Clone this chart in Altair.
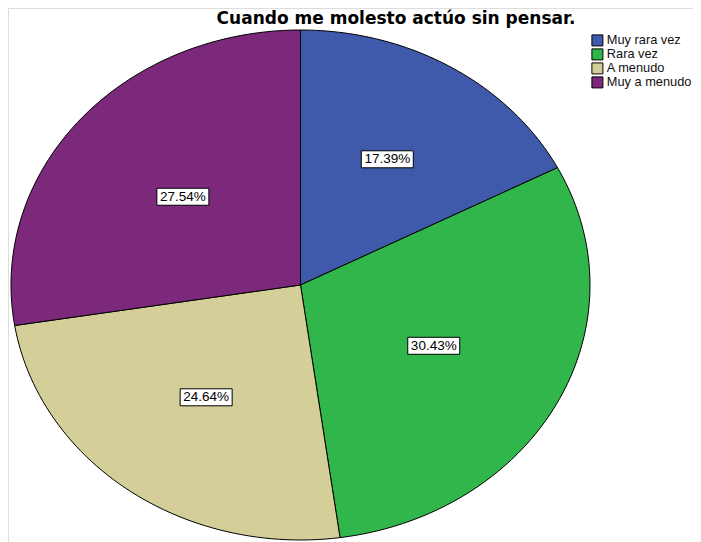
import altair as alt
import pandas as pd

categories = ["Muy rara vez", "Rara vez", "A menudo", "Muy a menudo"]
percentages = [17.39, 30.43, 24.64, 27.54]
labels = ["17.39%", "30.43%", "24.64%", "27.54%"]
colors = ["#3f59ab", "#30b64a", "#d4cf98", "#7c287b"]
title_text = "Cuando me molesto actúo sin pensar."

df = pd.DataFrame({
    "cat": categories,
    "pct": percentages,
    "label": labels,
    "order": list(range(len(categories))),
})

W, H = 685, 534
PXX, PXY = 289.5, 255.0
xmin = -1 - 3 / PXX
ymax = 1 + 22 / PXY
xdom = [xmin, xmin + W / PXX]
ydom = [ymax - H / PXY, ymax]

xs = alt.Scale(domain=xdom, nice=False, zero=False)
ys = alt.Scale(domain=ydom, nice=False, zero=False)
cscale = alt.Scale(domain=categories, range=colors)

base = (
    alt.Chart(df)
    .transform_window(cum="sum(pct)", sort=[alt.SortField("order")], frame=[None, 0])
    .transform_joinaggregate(total="sum(pct)")
    .transform_calculate(
        a0="2*PI*(datum.cum-datum.pct)/datum.total",
        a1="2*PI*datum.cum/datum.total",
    )
)

slices = (
    base.transform_calculate(k="sequence(0, 62)")
    .transform_flatten(["k"])
    .transform_calculate(
        t="clamp((datum.k-1)/59,0,1)",
        r="(datum.k==0||datum.k==61)?0:1",
    )
    .transform_calculate(ang="datum.a0+(datum.a1-datum.a0)*datum.t")
    .transform_calculate(px="datum.r*sin(datum.ang)", py="datum.r*cos(datum.ang)")
    .mark_line(interpolate="linear-closed", filled=True, stroke="black", strokeWidth=1, clip=False)
    .encode(
        x=alt.X("px:Q", scale=xs, axis=None),
        y=alt.Y("py:Q", scale=ys, axis=None),
        order=alt.Order("k:Q"),
        detail="cat:N",
        color=alt.Color(
            "cat:N",
            scale=cscale,
            sort=categories,
            legend=alt.Legend(
                title=None,
                orient="none",
                legendX=583,
                legendY=26,
                symbolType="square",
                symbolSize=121,
                symbolStrokeColor="black",
                symbolStrokeWidth=1,
                symbolOpacity=1,
                labelFont="Liberation Sans",
                labelFontSize=12.8,
                labelColor="#111111",
                labelOffset=3,
                labelLimit=200,
                rowPadding=-3,
                padding=0,
            ),
        ),
    )
)

# label anchor: a fraction of the sector centroid distance, along the mid angle
pos = (
    base.transform_calculate(mid="(datum.a0+datum.a1)/2", h="(datum.a1-datum.a0)/2")
    .transform_calculate(rc="0.91*2*sin(datum.h)/(3*datum.h)")
    .transform_calculate(lx="datum.rc*sin(datum.mid)", ly="datum.rc*cos(datum.mid)")
)

boxes = pos.mark_point(
    shape="M-1,-0.327L1,-0.327L1,0.327L-1,0.327Z",
    size=2704,
    filled=True,
    fill="white",
    stroke="black",
    strokeWidth=1,
    opacity=1,
).encode(
    x=alt.X("lx:Q", scale=xs, axis=None),
    y=alt.Y("ly:Q", scale=ys, axis=None),
)

texts = pos.mark_text(
    font="Liberation Sans", fontSize=13.5, color="black", align="center", baseline="middle"
).encode(
    x=alt.X("lx:Q", scale=xs, axis=None),
    y=alt.Y("ly:Q", scale=ys, axis=None),
    text="label:N",
)

title = (
    alt.Chart(pd.DataFrame({"t": [title_text]}))
    .mark_text(font="DejaVu Sans", fontSize=17, fontWeight="bold", color="black",
               align="center", baseline="alphabetic")
    .encode(x=alt.value(388), y=alt.value(16), text="t:N")
)

chart = (
    alt.layer(slices, boxes, texts, title)
    .properties(width=W, height=H, autosize=alt.AutoSizeParams(type="none"), padding=0)
    .configure_view(stroke=None)
    .configure(background="white")
)

chart.save("out.html", embed_options={"renderer": "svg", "actions": False})
